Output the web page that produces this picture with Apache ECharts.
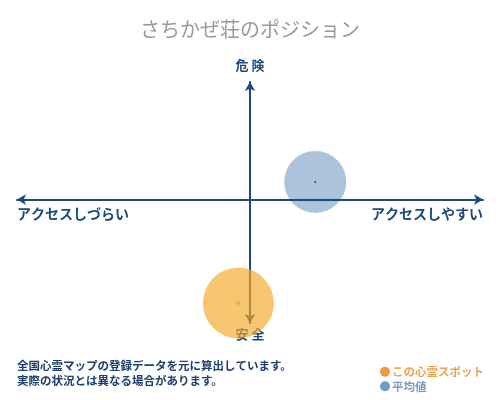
<!DOCTYPE html>
<html>
<head>
<meta charset="utf-8">
<script src="https://cdn.jsdelivr.net/npm/echarts@6/dist/echarts.min.js"></script>
<style>
  html, body { margin: 0; padding: 0; background: #fff; }
  #main { width: 500px; height: 400px; }
</style>
</head>
<body>
<div id="main"></div>
<script>
const titleText = 'さちかぜ荘のポジション'
const seriesNames = ['この心霊スポット', '平均値']
const spotPoint = [-0.5, -8.8]
const avgPoint = [2.8, 1.5]
const axisLabels = { top: '危 険', bottom: '安 全', left: 'アクセスしづらい', right: 'アクセスしやすい' }
const notes = ['全国心霊マップの登録データを元に算出しています。', '実際の状況とは異なる場合があります。']

const navy = '#1d4a7c'
const font = '"Noto Sans CJK JP", sans-serif'

const chart = echarts.init(document.getElementById('main'))

const axisCommon = {
  type: 'value',
  axisTick: { show: false },
  axisLabel: { show: false },
  splitLine: { show: false },
  z: 3,
  axisLine: {
    onZero: true,
    symbol: ['arrow', 'arrow'],
    symbolSize: [8, 9],
    lineStyle: { color: navy, width: 2 }
  }
}

const option = {
  animation: false,
  textStyle: { fontFamily: font },
  title: {
    text: titleText,
    left: 'center',
    top: 14,
    textStyle: { color: '#999', fontSize: 20, fontWeight: 'normal', fontFamily: font }
  },
  grid: { left: 17, right: 17, top: 82, bottom: 77 },
  xAxis: Object.assign({}, axisCommon, { min: -10, max: 10 }),
  yAxis: Object.assign({}, axisCommon, { min: -10.5, max: 10 }),
  legend: {
    orient: 'vertical',
    left: 375,
    top: 361,
    itemGap: 3,
    itemWidth: 10,
    itemHeight: 10,
    icon: 'circle',
    textStyle: { fontSize: 11.5, fontFamily: font, padding: [0, 0, 0, -3] },
    data: [
      { name: seriesNames[0], itemStyle: { color: '#f0993a', opacity: 1 }, textStyle: { color: '#e9a456', fontWeight: 'bold' } },
      { name: seriesNames[1], itemStyle: { color: '#6f9bc6', opacity: 1 }, textStyle: { color: '#7b9cc0', fontWeight: 'bold' } }
    ]
  },
  series: [
    {
      name: seriesNames[1],
      type: 'scatter',
      z: 2,
      symbolSize: 62,
      itemStyle: { color: '#4a7ab0', opacity: 0.45 },
      data: [avgPoint]
    },
    {
      name: seriesNames[1] + '-center',
      type: 'scatter',
      z: 4,
      symbolSize: 2,
      itemStyle: { color: '#1a2a40' },
      data: [avgPoint]
    },
    {
      name: seriesNames[0],
      type: 'scatter',
      z: 5,
      symbolSize: 71,
      itemStyle: { color: '#f5a623', opacity: 0.65 },
      data: [spotPoint]
    },
    {
      name: seriesNames[0] + '-center',
      type: 'scatter',
      z: 6,
      symbol: 'diamond',
      symbolSize: 5,
      itemStyle: { color: '#f0a030' },
      data: [spotPoint]
    }
  ],
  graphic: [
    { type: 'text', left: 'center', top: 59, style: { text: axisLabels.top, fill: navy, font: 'bold 13px ' + font } },
    { type: 'text', left: 'center', top: 328, style: { text: axisLabels.bottom, fill: navy, font: 'bold 13px ' + font } },
    { type: 'text', left: 17, top: 207, style: { text: axisLabels.left, fill: navy, font: 'bold 14px ' + font } },
    { type: 'text', right: 17, top: 207, style: { text: axisLabels.right, fill: navy, font: 'bold 14px ' + font } },
    { type: 'text', left: 17, top: 360, style: { text: notes[0], fill: '#1d3f6e', font: 'bold 11.5px ' + font } },
    { type: 'text', left: 17, top: 375, style: { text: notes[1], fill: '#1d3f6e', font: 'bold 11.5px ' + font } }
  ]
}

chart.setOption(option)
</script>
</body>
</html>
